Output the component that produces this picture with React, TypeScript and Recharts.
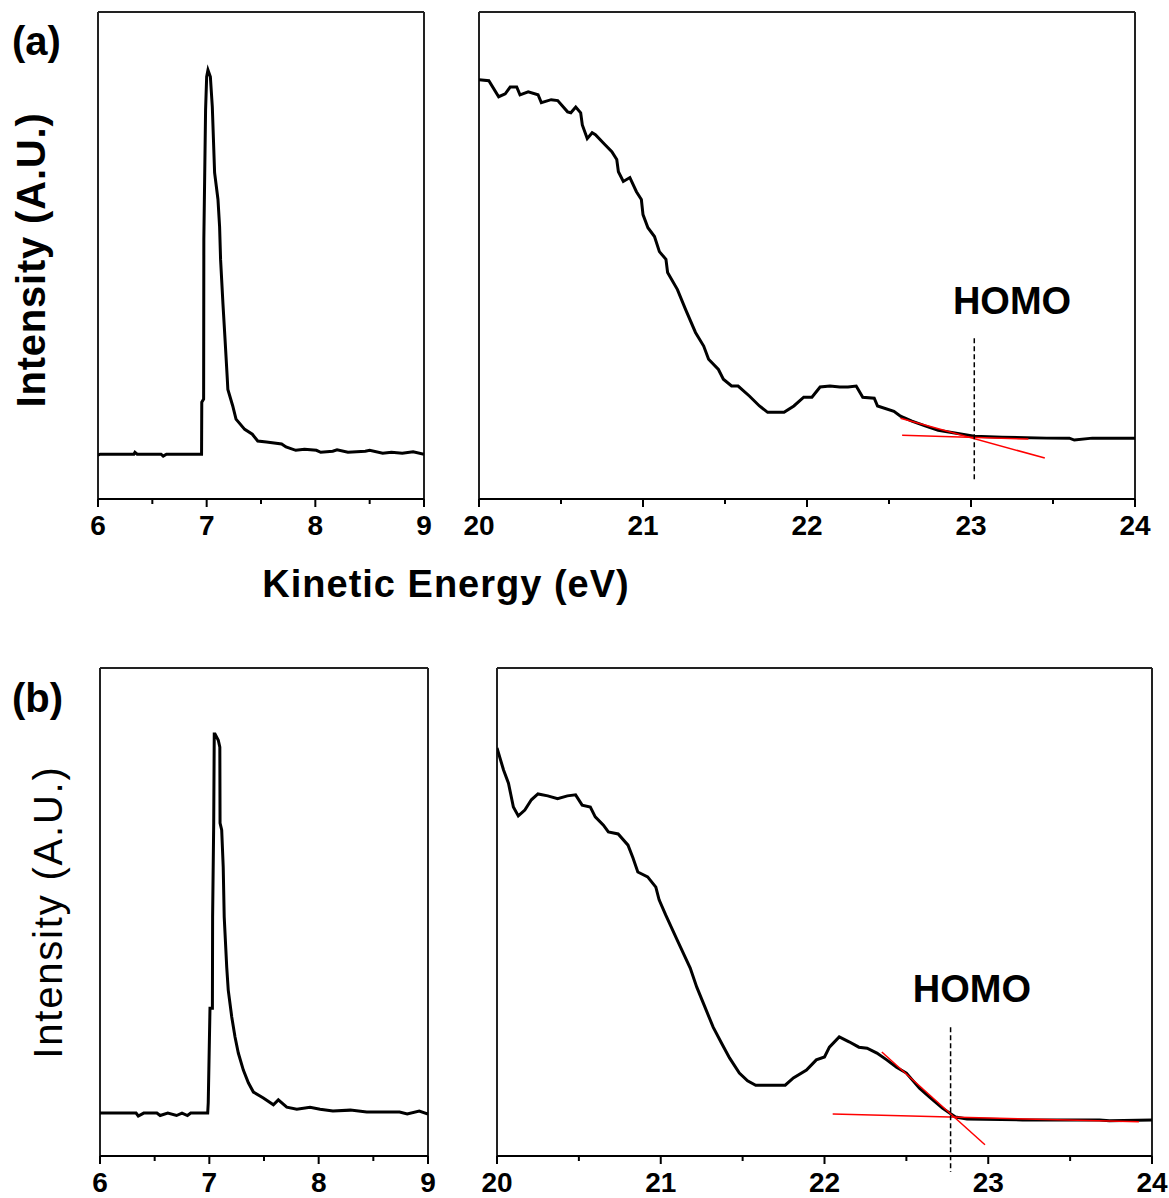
import React from 'react';
import { LineChart, Line, XAxis, YAxis, ReferenceLine, ReferenceDot } from 'recharts';

const FONT = '"Liberation Sans", Arial, Helvetica, sans-serif';

// ---------- panel (a), secondary-electron cutoff peak ----------
const aLeftEnergy = [6.0, 6.02, 6.15, 6.33, 6.34, 6.36, 6.58, 6.6, 6.63, 6.953, 6.955, 6.972, 6.974, 6.99, 7.0, 7.012, 7.034, 7.052, 7.073, 7.104, 7.119, 7.128, 7.15, 7.17, 7.19, 7.195, 7.24, 7.27, 7.35, 7.42, 7.47, 7.55, 7.69, 7.73, 7.82, 7.9, 8.01, 8.05, 8.16, 8.2, 8.3, 8.46, 8.5, 8.62, 8.7, 8.8, 8.9, 9.0];
const aLeftIntensity = [9.0, 9.2, 9.2, 9.2, 9.6, 9.2, 9.2, 8.8, 9.2, 9.2, 19.9, 20.5, 53.3, 79.9, 86.7, 88.1, 86.7, 80.5, 67.0, 61.5, 55.9, 49.2, 40.0, 32.4, 24.6, 22.5, 19.1, 16.4, 14.3, 13.3, 11.9, 11.7, 11.3, 10.7, 10.0, 10.2, 10.0, 9.6, 9.8, 10.1, 9.6, 9.8, 10.0, 9.4, 9.6, 9.4, 9.7, 9.2];

// ---------- panel (a), valence region ----------
const aRightEnergy = [20.0, 20.06, 20.12, 20.16, 20.19, 20.23, 20.25, 20.3, 20.36, 20.38, 20.44, 20.48, 20.54, 20.56, 20.59, 20.62, 20.63, 20.66, 20.69, 20.71, 20.77, 20.81, 20.84, 20.85, 20.88, 20.92, 20.96, 20.99, 21.0, 21.03, 21.07, 21.1, 21.14, 21.15, 21.21, 21.26, 21.32, 21.37, 21.4, 21.46, 21.49, 21.54, 21.58, 21.65, 21.71, 21.76, 21.86, 21.92, 21.98, 22.03, 22.08, 22.14, 22.2, 22.25, 22.3, 22.34, 22.41, 22.43, 22.53, 22.57, 22.64, 22.72, 22.8, 22.91, 23.02, 23.19, 23.46, 23.6, 23.63, 23.74, 24.0];
const aRightIntensity = [86.1, 85.9, 82.6, 83.2, 84.6, 84.6, 83.0, 83.6, 83.0, 81.4, 82.0, 81.8, 79.5, 79.3, 80.5, 79.3, 76.8, 74.0, 75.2, 74.8, 72.7, 71.3, 69.7, 67.2, 65.2, 66.0, 63.1, 61.5, 58.4, 55.7, 53.9, 50.8, 49.2, 46.5, 43.0, 38.9, 34.2, 31.4, 28.7, 26.6, 24.6, 23.2, 23.2, 21.1, 19.1, 17.8, 17.8, 19.1, 20.9, 20.9, 23.0, 23.2, 23.0, 23.0, 23.2, 20.9, 20.7, 19.1, 18.0, 17.0, 16.0, 15.0, 14.1, 13.5, 12.9, 12.7, 12.5, 12.5, 12.1, 12.5, 12.5];

// ---------- panel (b), secondary-electron cutoff peak ----------
const bLeftEnergy = [6.0, 6.33, 6.35, 6.4, 6.52, 6.55, 6.62, 6.7, 6.75, 6.8, 6.83, 6.985, 6.99, 7.006, 7.028, 7.03, 7.04, 7.045, 7.052, 7.082, 7.096, 7.098, 7.113, 7.127, 7.136, 7.159, 7.173, 7.205, 7.235, 7.265, 7.311, 7.357, 7.403, 7.494, 7.586, 7.631, 7.708, 7.8, 7.921, 8.013, 8.13, 8.29, 8.44, 8.74, 8.81, 8.92, 9.0];
const bLeftIntensity = [8.8, 8.8, 8.2, 8.8, 8.8, 8.3, 8.8, 8.3, 8.8, 8.3, 8.8, 8.8, 10.9, 30.3, 30.3, 49.0, 68.2, 86.5, 86.5, 85.2, 83.8, 68.2, 66.8, 59.2, 49.0, 38.7, 34.0, 28.5, 24.4, 21.1, 17.6, 15.0, 13.1, 11.9, 10.5, 11.5, 10.0, 9.6, 10.0, 9.6, 9.2, 9.4, 9.0, 9.0, 8.6, 9.2, 8.6];

// ---------- panel (b), valence region ----------
const bRightEnergy = [20.0, 20.04, 20.07, 20.1, 20.13, 20.17, 20.21, 20.25, 20.31, 20.37, 20.43, 20.48, 20.52, 20.57, 20.6, 20.65, 20.68, 20.74, 20.8, 20.83, 20.86, 20.92, 20.97, 20.99, 21.03, 21.1, 21.18, 21.22, 21.27, 21.32, 21.37, 21.42, 21.48, 21.53, 21.58, 21.76, 21.81, 21.89, 21.95, 22.0, 22.03, 22.09, 22.15, 22.21, 22.26, 22.32, 22.38, 22.44, 22.5, 22.58, 22.64, 22.72, 22.8, 22.87, 23.21, 23.68, 23.74, 24.0];
const bRightIntensity = [83.6, 79.1, 76.4, 71.5, 69.7, 70.9, 73.0, 74.2, 73.8, 73.2, 73.8, 74.0, 71.9, 71.5, 69.5, 67.8, 66.4, 66.0, 63.7, 61.1, 58.2, 57.2, 55.1, 52.5, 49.4, 44.3, 38.5, 34.6, 30.5, 26.4, 23.2, 20.1, 17.0, 15.4, 14.5, 14.5, 16.0, 17.6, 19.7, 20.3, 22.3, 24.4, 23.4, 22.3, 22.1, 21.1, 19.7, 18.2, 17.0, 13.9, 12.1, 9.8, 8.0, 7.6, 7.4, 7.4, 7.2, 7.4];

// ---------- axes ----------
const lowTicks = [6, 6.5, 7, 7.5, 8, 8.5, 9];
const highTicks = [20, 20.5, 21, 21.5, 22, 22.5, 23, 23.5, 24];
const lowDomain: [number, number] = [6, 9];
const highDomain: [number, number] = [20, 24];

// ---------- HOMO onset construction ----------
const aHomoEnergy = 23.02;
const aHomoLabel = { e: 23.25, v: 40.8 };
const aHomoDash = [33.0, 3.5];
const aTangentE = [22.57, 23.45];
const aTangentV = [16.6, 8.4];
const aBaseE = [22.58, 23.35];
const aBaseV = [13.1, 12.3];

const bHomoEnergy = 22.77;
const bHomoLabel = { e: 22.9, v: 34.3 };
const bHomoDash = [26.4, -3.3];
const bTangentE = [22.35, 22.98];
const bTangentV = [21.3, 2.3];
const bBaseE = [22.05, 23.92];
const bBaseV = [8.6, 7.0];

const zip = (xs: number[], ys: number[]) => xs.map((e, i) => ({ e, v: ys[i] }));

function AxisTick(props: any) {
  const { x, y, payload } = props;
  const major = Number.isInteger(payload.value);
  return (
    <g>
      <line x1={x} x2={x} y1={y} y2={y + (major ? 8 : 5)} stroke="#000" strokeWidth={2} />
      {major && (
        <text x={x} y={y + 36} textAnchor="middle" fontFamily={FONT} fontSize={28} fontWeight="bold" fill="#000">
          {payload.value}
        </text>
      )}
    </g>
  );
}

type PanelProps = {
  left: number;
  top: number;
  width: number;
  height: number;
  energy: number[];
  intensity: number[];
  domain: [number, number];
  ticks: number[];
  children?: React.ReactNode;
};

const MT = 12;
const MX = 32;
const AXH = 56;

function Panel({ left, top, width, height, energy, intensity, domain, ticks, children }: PanelProps) {
  const data = zip(energy, intensity);
  return (
    <div style={{ position: 'absolute', left: left - MX, top: top - MT }}>
      <LineChart
        width={width + 2 * MX}
        height={height + MT + AXH}
        data={data}
        margin={{ top: MT, right: MX, left: MX, bottom: 0 }}
      >
        <XAxis
          dataKey="e"
          type="number"
          domain={domain}
          ticks={ticks}
          interval={0}
          allowDataOverflow
          tickLine={false}
          tickSize={0}
          tickMargin={0}
          height={AXH}
          axisLine={{ stroke: '#000', strokeWidth: 2 }}
          tick={(p: any) => <AxisTick {...p} />}
        />
        <YAxis type="number" domain={[0, 100]} hide allowDataOverflow />
        <ReferenceLine y={100} stroke="#222" strokeWidth={2} ifOverflow="visible" />
        <ReferenceLine x={domain[0]} stroke="#222" strokeWidth={2} ifOverflow="visible" />
        <ReferenceLine x={domain[1]} stroke="#222" strokeWidth={2} ifOverflow="visible" />
        <Line
          dataKey="v"
          type="linear"
          stroke="#000"
          strokeWidth={3}
          dot={false}
          isAnimationActive={false}
        />
        {children}
      </LineChart>
    </div>
  );
}

function homoParts(
  homoE: number,
  dash: number[],
  label: { e: number; v: number },
  tanE: number[],
  tanV: number[],
  baseE: number[],
  baseV: number[]
) {
  return [
    <ReferenceLine
      key="tan"
      segment={[{ x: tanE[0], y: tanV[0] }, { x: tanE[1], y: tanV[1] }]}
      stroke="#ff0000"
      strokeWidth={1.5}
      ifOverflow="visible"
    />,
    <ReferenceLine
      key="base"
      segment={[{ x: baseE[0], y: baseV[0] }, { x: baseE[1], y: baseV[1] }]}
      stroke="#ff0000"
      strokeWidth={1.5}
      ifOverflow="visible"
    />,
    <ReferenceLine
      key="dash"
      segment={[{ x: homoE, y: dash[0] }, { x: homoE, y: dash[1] }]}
      stroke="#000"
      strokeWidth={1.5}
      strokeDasharray="5 3"
      ifOverflow="visible"
    />,
    <ReferenceDot
      key="lbl"
      x={label.e}
      y={label.v}
      r={0}
      fill="none"
      stroke="none"
      ifOverflow="visible"
      label={{ value: 'HOMO', position: 'center', fontSize: 38, fontWeight: 'bold', fill: '#000', fontFamily: FONT }}
    />,
  ];
}

export default function App() {
  return (
    <div style={{ position: 'absolute', left: 0, top: 0, width: 1169, height: 1198, background: '#fff', fontFamily: FONT }}>
      <Panel left={98} top={12} width={326} height={487} energy={aLeftEnergy} intensity={aLeftIntensity} domain={lowDomain} ticks={lowTicks} />
      <Panel left={479} top={12} width={656} height={487} energy={aRightEnergy} intensity={aRightIntensity} domain={highDomain} ticks={highTicks}>
        {homoParts(aHomoEnergy, aHomoDash, aHomoLabel, aTangentE, aTangentV, aBaseE, aBaseV)}
      </Panel>
      <Panel left={100} top={668} width={328} height={488} energy={bLeftEnergy} intensity={bLeftIntensity} domain={lowDomain} ticks={lowTicks} />
      <Panel left={497} top={668} width={655} height={488} energy={bRightEnergy} intensity={bRightIntensity} domain={highDomain} ticks={highTicks}>
        {homoParts(bHomoEnergy, bHomoDash, bHomoLabel, bTangentE, bTangentV, bBaseE, bBaseV)}
      </Panel>
      <svg width={1169} height={1198} style={{ position: 'absolute', left: 0, top: 0, pointerEvents: 'none' }}>
        <text x={12} y={55} fontFamily={FONT} fontSize={40} fontWeight="bold" fill="#000">(a)</text>
        <text x={12} y={712} fontFamily={FONT} fontSize={40} fontWeight="bold" fill="#000">(b)</text>
        <text x={446} y={597} textAnchor="middle" fontFamily={FONT} fontSize={38} fontWeight="bold" letterSpacing={1} fill="#000">
          Kinetic Energy (eV)
        </text>
        <text
          x={45}
          y={260}
          transform="rotate(-90 45 260)"
          textAnchor="middle"
          fontFamily={FONT}
          fontSize={40}
          fontWeight="bold"
          letterSpacing={0.8}
          fill="#000"
        >
          Intensity (A.U.)
        </text>
        <text
          x={62}
          y={912}
          transform="rotate(-90 62 912)"
          textAnchor="middle"
          fontFamily={FONT}
          fontSize={40}
          letterSpacing={1.8}
          fill="#000"
        >
          Intensity (A.U.)
        </text>
      </svg>
    </div>
  );
}
